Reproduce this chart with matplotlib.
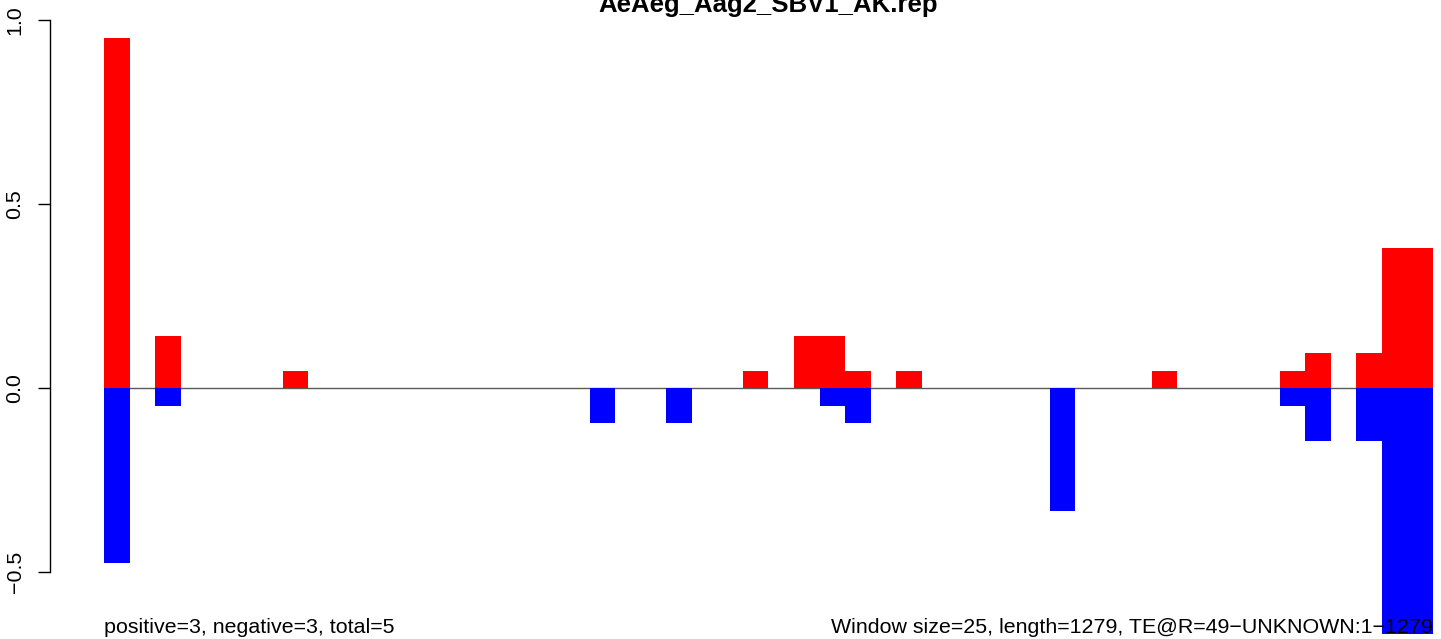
import numpy as np
import matplotlib
matplotlib.use("Agg")
import matplotlib.pyplot as plt

plt.rcParams['font.family'] = ['Liberation Sans', 'DejaVu Sans']

# ---- data ----
title = "AeAeg_Aag2_SBV1_AK.rep"
window_size = 25
n_windows = 52
positive = [0.952, 0, 0.143, 0, 0, 0, 0, 0.048, 0, 0,
            0, 0, 0, 0, 0, 0, 0, 0, 0, 0,
            0, 0, 0, 0, 0, 0.048, 0, 0.143, 0.143, 0.048,
            0, 0.048, 0, 0, 0, 0, 0, 0, 0, 0,
            0, 0.048, 0, 0, 0, 0, 0.048, 0.095, 0, 0.095,
            0.381, 0.381]
negative = [-0.476, 0, -0.048, 0, 0, 0, 0, 0, 0, 0,
            0, 0, 0, 0, 0, 0, 0, 0, 0, -0.095,
            0, 0, -0.095, 0, 0, 0, 0, 0, -0.048, -0.095,
            0, 0, 0, 0, 0, 0, 0, -0.333, 0, 0,
            0, 0, 0, 0, 0, 0, -0.048, -0.143, 0, -0.143,
            -0.667, -0.667]
yticks = [-0.5, 0.0, 0.5, 1.0]
ytick_labels = ["\u22120.5", "0.0", "0.5", "1.0"]
left_note = "positive=3, negative=3, total=5"
right_note = "Window size=25, length=1279, TE@R=49\u2212UNKNOWN:1\u22121279"

W, H = 1441, 639
fig = plt.figure(figsize=(W / 100, H / 100), dpi=100)
px_left, px_right = 104, 1433
ax = fig.add_axes([px_left / W, 0, (px_right - px_left) / W, 1])

starts = np.arange(n_windows) * window_size
ax.axhline(0, color='#5a5a5a', lw=1.0, zorder=1)
ax.bar(starts, positive, width=window_size, align='edge', color='#ff0000',
       linewidth=0, zorder=2)
ax.bar(starts, negative, width=window_size, align='edge', color='#0000ff',
       linewidth=0, zorder=2)

ax.set_xlim(0, n_windows * window_size)
ax.set_ylim(-0.6814, 1.0554)

for s in ['top', 'right', 'bottom']:
    ax.spines[s].set_visible(False)
ax.spines['left'].set_position(('axes', -(px_left - 50) / (px_right - px_left)))
ax.spines['left'].set_bounds(-0.5, 1.0)
ax.spines['left'].set_linewidth(1.0)
ax.set_xticks([])
ax.set_yticks(yticks)
ax.set_yticklabels(ytick_labels, rotation=90, va='center', fontsize=15.4)
ax.tick_params(axis='y', length=8.6, width=1.0, pad=9.7, direction='out')
ax.patch.set_alpha(0)

fig.text(768.5 / W, (H - 12) / H, title, ha='center', va='baseline',
         fontsize=18.5, fontweight='bold')
fig.text(px_left / W, (H - 633) / H, left_note, ha='left', va='baseline',
         fontsize=15.4, zorder=5)
fig.text(px_right / W, (H - 633) / H, right_note, ha='right', va='baseline',
         fontsize=15.4, zorder=5)

fig.savefig("out.png", dpi=100)
